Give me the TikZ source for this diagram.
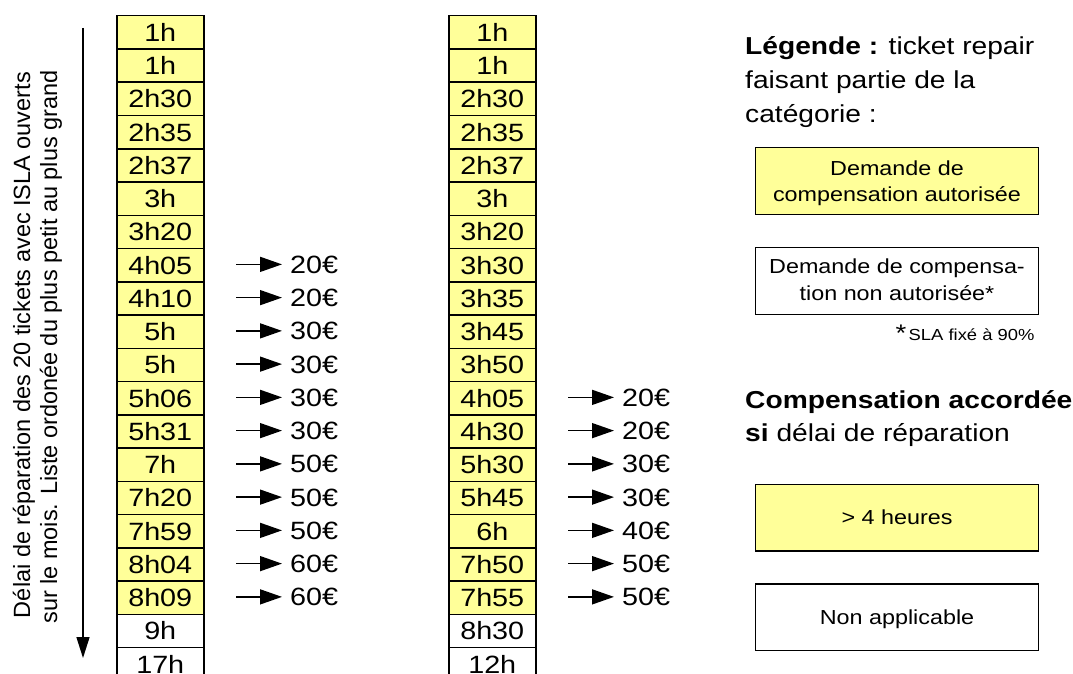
\documentclass[tikz,border=0pt]{standalone}
\usepackage{fontspec}
\setmainfont{Liberation Sans}[FakeStretch=1.15]
\newfontfamily\plainfont{Liberation Sans}
\usetikzlibrary{arrows.meta}
\definecolor{cellyellow}{HTML}{FFFF99}
\newcommand\fsz[1]{\fontsize{#1}{#1}\selectfont}
\begin{document}
\begin{tikzpicture}[x=1pt,y=-1pt,
  cell/.style={draw=black,line width=1.5pt,minimum width=87pt,minimum height=33.25pt,
    inner sep=0pt,anchor=north west,font=\fsz{25},text height=17.9pt,text depth=0pt},
  ycell/.style={cell,fill=cellyellow},
  wcell/.style={cell,fill=white},
  amount/.style={anchor=west,inner sep=0pt,font=\fsz{25},text height=17.9pt,text depth=0pt},
  sarr/.style={line width=1.5pt,-{Triangle[length=22pt,width=15pt]},shorten >=8pt},
  bigarr/.style={line width=1.5pt,-{Triangle[length=21pt,width=13pt]}},
  legtxt/.style={anchor=base west,inner sep=0pt,font=\fsz{24.5}},
  boxtxt/.style={anchor=base,inner sep=0pt,font=\fsz{20.3}},
  legbox/.style={draw=black,line width=1.5pt,minimum width=282.6pt,minimum height=66.6pt,
    inner sep=0pt,font=\fsz{20.3},text height=14.5pt,text depth=0pt},
]
\useasboundingbox (0,0) rectangle (1073,674);

% vertical axis label and arrow
\node[rotate=90,anchor=base,inner sep=0pt,font=\plainfont\fsz{23.5}] (yl1) at (30,345)
  {Délai de réparation des 20 tickets avec ISLA ouverts};
\node[rotate=90,anchor=base,inner sep=0pt,font=\plainfont\fsz{23.5}] (yl2) at (57,347)
  {sur le mois. Liste ordonée du plus petit au plus grand};
\coordinate (ytop) at (83,28);
\coordinate (ybot) at (83,658);
\draw[bigarr] (ytop) -- (ybot);

% column 1
\foreach \t [count=\i] in {1h,1h,2h30,2h35,2h37,3h,3h20,4h05,4h10,5h,5h,5h06,5h31,7h,7h20,7h59,8h04,8h09,9h,17h}{
  \pgfmathsetmacro\yy{15+33.25*(\i-1)}
  \ifnum\i<19 \def\st{ycell}\else\def\st{wcell}\fi
  \node[\st] (c1-\i) at (116,\yy) {\t};
}
% column 2
\foreach \t [count=\i] in {1h,1h,2h30,2h35,2h37,3h,3h20,3h30,3h35,3h45,3h50,4h05,4h30,5h30,5h45,6h,7h50,7h55,8h30,12h}{
  \pgfmathsetmacro\yy{15+33.25*(\i-1)}
  \ifnum\i<19 \def\st{ycell}\else\def\st{wcell}\fi
  \node[\st] (c2-\i) at (448,\yy) {\t};
}

% compensation arrows, column 1
\foreach \r/\amt in {8/20,9/20,10/30,11/30,12/30,13/30,14/50,15/50,16/50,17/60,18/60}{
  \pgfmathsetmacro\yy{15+33.25*(\r-0.5)}
  \coordinate (a1-\r) at (236,\yy);
  \node[amount] (v1-\r) at (290,\yy) {\amt€};
  \draw[sarr] (a1-\r) -- (v1-\r.west);
}
% compensation arrows, column 2
\foreach \r/\amt in {12/20,13/20,14/30,15/30,16/40,17/50,18/50}{
  \pgfmathsetmacro\yy{15+33.25*(\r-0.5)}
  \coordinate (a2-\r) at (568,\yy);
  \node[amount] (v2-\r) at (622,\yy) {\amt€};
  \draw[sarr] (a2-\r) -- (v2-\r.west);
}

% legend
\node[legtxt] (lg1) at (745,55) {\textbf{Légende :} ticket repair};
\node[legtxt] (lg2) at (745,89) {faisant partie de la};
\node[legtxt] (lg3) at (745,123) {catégorie :};

\node[legbox,fill=cellyellow] (b1) at (897,181) {};
\node[boxtxt] (b1t1) at (897,175) {Demande de};
\node[boxtxt] (b1t2) at (897,201.7) {compensation autorisée};

\node[legbox,fill=white] (b2) at (897,281) {};
\node[boxtxt] (b2t1) at (897,273.3) {Demande de compensa-};
\node[boxtxt] (b2t2) at (897,300) {tion non autorisée*};

\node[anchor=base west,inner sep=0pt,font=\fsz{24}] (star) at (895.5,341) {*};
\node[anchor=base west,inner sep=0pt,font=\fsz{16}] (sla) at (908.5,340) {SLA fixé à 90\%};

\node[legtxt] (cp1) at (745,408) {\textbf{Compensation accordée}};
\node[legtxt] (cp2) at (745,441.7) {\textbf{si} délai de réparation};

\node[legbox,fill=cellyellow] (b3) at (897,517.7) {> 4 heures};
\node[legbox,fill=white] (b4) at (897,617.3) {Non applicable};
\end{tikzpicture}
\end{document}
